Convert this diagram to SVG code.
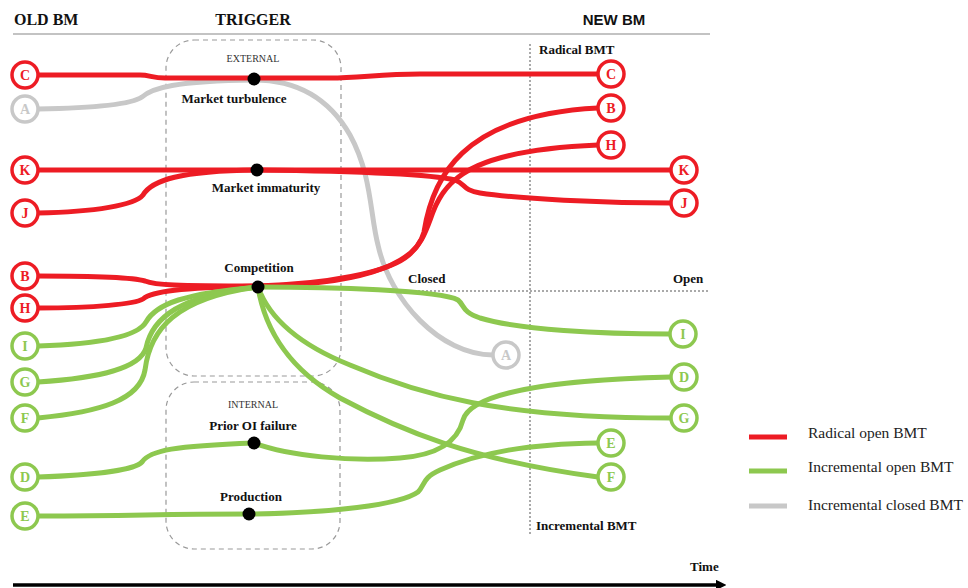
<svg xmlns="http://www.w3.org/2000/svg" width="968" height="588" viewBox="0 0 968 588">
  <defs>
    <style>
      .hdr { font-family: "Liberation Serif", serif; font-weight: bold; font-size: 16px; fill: #111; }
      .hdr-sans { font-family: "Liberation Sans", "Open Sans", sans-serif; font-weight: bold; font-size: 15px; fill: #111; }
      .lbl { font-family: "Liberation Serif", serif; font-weight: bold; font-size: 13px; fill: #111; }
      .small { font-family: "Liberation Serif", serif; font-size: 10px; fill: #333; }
      .leg { font-family: "Liberation Serif", serif; font-size: 15.5px; fill: #222; }
      .box { fill: none; stroke: #999; stroke-width: 1.2; stroke-dasharray: 5 4; }
      .dot-line { stroke: #555; stroke-width: 1; stroke-dasharray: 2 2; fill: none; }
      .red { fill: none; stroke: #ED1C24; stroke-width: 5; stroke-linecap: round; }
      .green { fill: none; stroke: #8DC84F; stroke-width: 5; stroke-linecap: round; }
      .grey { fill: none; stroke: #C8C8C8; stroke-width: 5; stroke-linecap: round; }
      .n circle { fill: #fff; stroke-width: 3.5; }
      .n text { font-family: "Liberation Serif", serif; font-weight: bold; font-size: 14px; text-anchor: middle; }
      .nr circle { stroke: #ED1C24; } .nr text { fill: #ED1C24; }
      .ng circle { stroke: #8DC84F; } .ng text { fill: #8DC84F; }
      .na circle { stroke: #C8C8C8; } .na text { fill: #C8C8C8; }
      .trig circle { fill: #000; }
      .trig text { text-anchor: middle; }
    </style>
    <marker id="arrow" viewBox="0 0 10 10" refX="2" refY="5" markerWidth="3" markerHeight="3" orient="auto">
      <path d="M0,0 L10,5 L0,10 z" fill="#000"/>
    </marker>
  </defs>

  <rect width="968" height="588" fill="#fff"/>

  <!-- column headers -->
  <text class="hdr" x="14" y="25">OLD BM</text>
  <text class="hdr" x="253" y="25" text-anchor="middle">TRIGGER</text>
  <text class="hdr-sans" x="614" y="25" text-anchor="middle">NEW BM</text>
  <line x1="13" y1="34" x2="710" y2="34" stroke="#888" stroke-width="1.2"/>

  <!-- trigger boxes -->
  <rect class="box" x="166" y="40" width="175" height="336" rx="28"/>
  <rect class="box" x="166" y="382" width="174" height="167" rx="28"/>

  <!-- quadrant guides -->
  <line class="dot-line" x1="530" y1="44" x2="530" y2="535"/>
  <line class="dot-line" x1="398" y1="291" x2="710" y2="291"/>
  <text class="lbl" x="539" y="54">Radical BMT</text>
  <text class="lbl" x="408" y="283">Closed</text>
  <text class="lbl" x="673" y="283">Open</text>
  <text class="lbl" x="536" y="530" font-size="12">Incremental BMT</text>

  <!-- connectors -->
  <g id="connectors">
    <path class="grey" d="M38,109 C95,108 132,104 142,97 C152,88 175,81 254,80 C300,80 330,100 350,135 C372,175 370,215 378,245 C390,300 440,355 493,355"/>
    <path class="red" d="M38,75 L140,75 C150,75 152,78 165,78 L330,78 C360,78 380,74 420,74 L598,74"/>
    <path class="red" d="M38,170 L671,170"/>
    <path class="red" d="M38,213 C95,212 135,205 143,195 C152,180 180,171 257,170 C340,171 430,174 455,180 C466,184 462,190 480,193 C520,199 600,203 671,203"/>
    <path class="red" d="M38,276 C95,276 135,278 145,281 C155,285 175,286 258,286"/>
    <path class="red" d="M38,308 C95,308 135,304 143,299 C152,291 180,288 258,286"/>
    <path class="red" d="M258,286 C350,285 415,268 424,232 C432,180 460,115 598,108"/>
    <path class="red" d="M258,286 C330,284 385,272 405,258 C425,244 428,222 436,205 C450,175 480,150 598,145"/>
    <path class="green" d="M38,346 C100,344 138,336 146,322 C156,304 185,293 258,287"/>
    <path class="green" d="M38,382 C100,378 140,368 146,348 C152,318 180,295 258,287"/>
    <path class="green" d="M38,418 C100,412 140,400 145,370 C150,330 175,298 258,287"/>
    <path class="green" d="M258,287 C330,287 440,290 458,300 C465,306 462,312 480,318 C520,330 600,334 670,334"/>
    <path class="green" d="M258,287 C270,320 300,345 350,365 C420,395 500,418 671,418"/>
    <path class="green" d="M258,287 C265,330 290,370 340,398 C400,430 470,460 598,477"/>
    <path class="green" d="M38,477 C95,475 135,470 142,462 C150,450 175,446 254,443"/>
    <path class="green" d="M254,443 C290,456 350,462 400,458 C440,455 458,440 463,420 C470,395 540,380 671,377"/>
    <path class="green" d="M38,516 C140,516 150,514 249,514"/>
    <path class="green" d="M249,514 C330,513 400,505 418,492 C425,485 422,478 440,470 C480,452 530,444 598,443"/>
  </g>

  <!-- triggers -->
  <g id="trigger-external" class="trig">
    <text class="small" x="253" y="62">EXTERNAL</text>
  </g>
  <g id="trigger-market-turbulence" class="trig">
    <circle cx="254" cy="79" r="6.5"/>
    <text class="lbl" x="234" y="103">Market turbulence</text>
  </g>
  <g id="trigger-market-immaturity" class="trig">
    <circle cx="257" cy="170" r="6.5"/>
    <text class="lbl" x="266" y="192">Market immaturity</text>
  </g>
  <g id="trigger-competition" class="trig">
    <circle cx="258" cy="287" r="6.5"/>
    <text class="lbl" x="259" y="272">Competition</text>
  </g>
  <g id="trigger-internal" class="trig">
    <text class="small" x="253" y="408">INTERNAL</text>
  </g>
  <g id="trigger-prior-oi-failure" class="trig">
    <circle cx="254" cy="443" r="6.5"/>
    <text class="lbl" x="253" y="430">Prior OI failure</text>
  </g>
  <g id="trigger-production" class="trig">
    <circle cx="249" cy="514" r="6.5"/>
    <text class="lbl" x="251" y="501">Production</text>
  </g>

  <!-- old business model nodes -->
  <g id="old-C" class="n nr"><circle cx="25" cy="75" r="13"/><text x="25" y="80">C</text></g>
  <g id="old-A" class="n na"><circle cx="25" cy="109" r="13"/><text x="25" y="114">A</text></g>
  <g id="old-K" class="n nr"><circle cx="25" cy="170" r="13"/><text x="25" y="175">K</text></g>
  <g id="old-J" class="n nr"><circle cx="25" cy="213" r="13"/><text x="25" y="218">J</text></g>
  <g id="old-B" class="n nr"><circle cx="25" cy="276" r="13"/><text x="25" y="281">B</text></g>
  <g id="old-H" class="n nr"><circle cx="25" cy="308" r="13"/><text x="25" y="313">H</text></g>
  <g id="old-I" class="n ng"><circle cx="25" cy="346" r="13"/><text x="25" y="351">I</text></g>
  <g id="old-G" class="n ng"><circle cx="25" cy="382" r="13"/><text x="25" y="387">G</text></g>
  <g id="old-F" class="n ng"><circle cx="25" cy="418" r="13"/><text x="25" y="423">F</text></g>
  <g id="old-D" class="n ng"><circle cx="25" cy="477" r="13"/><text x="25" y="482">D</text></g>
  <g id="old-E" class="n ng"><circle cx="25" cy="516" r="13"/><text x="25" y="521">E</text></g>

  <!-- new business model nodes -->
  <g id="new-C" class="n nr"><circle cx="611" cy="74" r="13"/><text x="611" y="79">C</text></g>
  <g id="new-B" class="n nr"><circle cx="611" cy="108" r="13"/><text x="611" y="113">B</text></g>
  <g id="new-H" class="n nr"><circle cx="611" cy="145" r="13"/><text x="611" y="150">H</text></g>
  <g id="new-K" class="n nr"><circle cx="684" cy="170" r="13"/><text x="684" y="175">K</text></g>
  <g id="new-J" class="n nr"><circle cx="684" cy="203" r="13"/><text x="684" y="208">J</text></g>
  <g id="new-I" class="n ng"><circle cx="683" cy="334" r="13"/><text x="683" y="339">I</text></g>
  <g id="new-A" class="n na"><circle cx="506" cy="355" r="13"/><text x="506" y="360">A</text></g>
  <g id="new-D" class="n ng"><circle cx="684" cy="377" r="13"/><text x="684" y="382">D</text></g>
  <g id="new-G" class="n ng"><circle cx="684" cy="418" r="13"/><text x="684" y="423">G</text></g>
  <g id="new-E" class="n ng"><circle cx="611" cy="443" r="13"/><text x="611" y="448">E</text></g>
  <g id="new-F" class="n ng"><circle cx="611" cy="477" r="13"/><text x="611" y="482">F</text></g>

  <!-- legend -->
  <g id="legend">
    <line x1="749" y1="437" x2="787" y2="437" stroke="#ED1C24" stroke-width="5"/>
    <text class="leg" x="808" y="438">Radical open BMT</text>
    <line x1="749" y1="471" x2="787" y2="471" stroke="#8DC84F" stroke-width="5"/>
    <text class="leg" x="808" y="472">Incremental open BMT</text>
    <line x1="749" y1="506" x2="787" y2="506" stroke="#C8C8C8" stroke-width="5"/>
    <text class="leg" x="808" y="510">Incremental closed BMT</text>
  </g>

  <!-- time axis -->
  <text class="lbl" x="690" y="571" font-size="14">Time</text>
  <line x1="13" y1="585" x2="718" y2="585" stroke="#000" stroke-width="3.5" marker-end="url(#arrow)"/>
</svg>
